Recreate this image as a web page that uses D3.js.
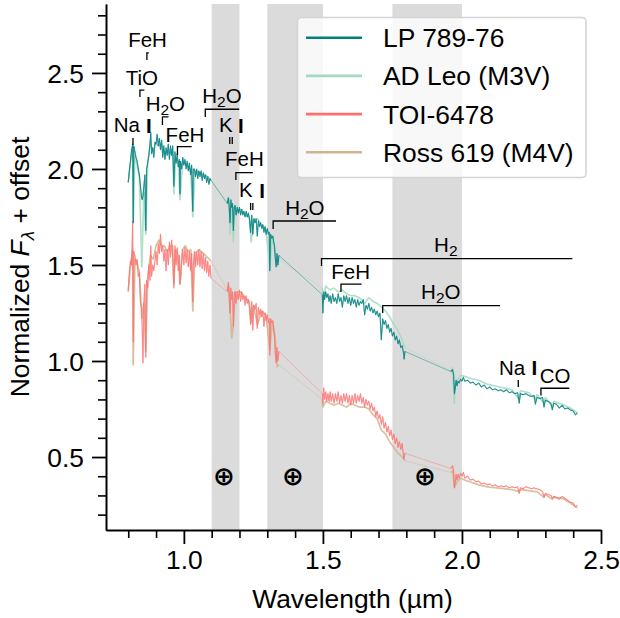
<!doctype html>
<html lang="en">
<head>
  <meta charset="utf-8">
  <title>Normalized spectra</title>
  <style>
body { margin: 0; background: #fff; }
svg { display: block; }
text { font-family: "Liberation Sans", Arial, sans-serif; fill: #000; }
.axis path, .axis line { stroke: #000; fill: none; }
.axis text { font-size: 26.4px; }
.spec { fill: none; stroke-linejoin: round; }
  </style>
</head>
<body>
  <script src="https://d3js.org/d3.v7.min.js"></script>
  <script>
// wavelength grid of the two targets (micron)
var wave = [
  .800,.804,.808,.812,.816,.818,.820,.824,.828,.832,
  .836,.840,.844,.848,.850,.853,.856,.860,.863,.866,
  .870,.874,.878,.881,.884,.888,.892,.896,.900,.904,
  .908,.912,.916,.920,.924,.928,.932,.936,.940,.944,
  .948,.952,.956,.960,.964,.968,.972,.976,.980,.984,
  .986,.988,.992,.996,1.000,1.004,1.008,1.012,1.016,1.020,
  1.024,1.028,1.032,1.034,1.038,1.042,1.046,1.050,1.054,1.058,
  1.062,1.066,1.070,1.074,1.078,1.082,1.086,1.090,1.094,1.098,

  1.156,1.160,1.163,1.166,1.169,1.172,1.175,1.178,1.181,1.184,
  1.188,1.192,1.196,1.200,1.204,1.208,1.212,1.216,1.220,1.224,
  1.228,1.232,1.236,1.240,1.244,1.248,1.252,1.256,1.260,1.264,
  1.268,1.272,1.276,1.280,1.284,1.288,1.292,1.296,1.300,1.304,
  1.307,1.309,1.312,1.316,1.320,1.323,1.326,1.329,1.332,1.335,1.338,1.342,

  1.498,1.500,1.503,1.506,1.510,1.514,1.518,1.522,1.526,1.530,
  1.535,1.540,1.545,1.550,1.555,1.560,1.565,1.570,1.575,
  1.580,1.585,1.590,1.595,1.600,1.605,1.610,1.615,1.620,1.625,
  1.630,1.635,1.640,1.645,1.650,1.655,1.660,1.665,1.670,1.675,
  1.680,1.685,1.690,1.695,1.700,1.705,1.710,1.715,1.720,1.725,
  1.730,1.735,1.740,1.745,1.750,1.755,1.760,1.765,1.770,1.775,
  1.780,1.785,1.790,1.792,1.795,

  1.960,1.966,1.970,1.973,1.976,1.979,1.982,1.986,1.990,1.995,
  2.000,2.005,2.010,2.020,2.030,2.040,2.050,2.060,2.070,2.080,
  2.090,2.100,2.110,2.120,2.130,2.140,2.150,2.160,2.170,2.180,
  2.190,2.200,2.206,2.210,2.220,2.230,2.240,2.250,2.260,2.264,
  2.270,2.280,2.290,2.295,2.300,2.310,2.320,2.325,2.330,2.340,
  2.350,2.360,2.370,2.380,2.390,2.400,2.408,2.415
];

var lp789 = [
  1.93,1.99,2.04,2.10,2.13,1.72,2.12,2.09,2.06,2.04,
  2.00,1.97,1.91,1.85,1.84,1.86,1.91,1.97,1.68,2.00,
  2.03,2.07,2.13,2.19,2.08,2.11,2.06,2.14,2.13,2.18,
  2.12,2.16,2.10,2.15,2.06,2.12,2.05,2.11,2.07,2.13,
  2.05,2.12,2.07,2.12,1.91,2.09,2.03,2.08,2.01,2.05,
  1.87,2.04,2.00,2.06,2.02,2.05,2.00,2.04,1.99,2.03,
  1.97,2.02,1.78,2.00,2.00,1.96,2.00,1.95,1.99,1.96,
  1.99,1.94,1.98,1.95,1.97,1.93,1.96,1.92,1.95,1.94,

  1.82,1.85,1.80,1.72,1.84,1.80,1.82,1.68,1.80,1.81,
  1.76,1.80,1.77,1.80,1.76,1.79,1.76,1.78,1.75,1.78,
  1.75,1.77,1.74,1.67,1.76,1.66,1.74,1.72,1.74,1.65,
  1.73,1.70,1.72,1.69,1.71,1.67,1.70,1.66,1.69,1.66,
  1.67,1.47,1.66,1.64,1.65,1.62,1.60,1.53,1.49,1.56,1.50,1.55,

  1.345,1.25,1.36,1.32,1.36,1.33,1.35,1.31,1.34,1.30,
  1.35,1.31,1.33,1.30,1.35,1.31,1.33,1.28,1.34,
  1.31,1.34,1.30,1.33,1.29,1.33,1.30,1.32,1.28,1.32,
  1.29,1.31,1.30,1.32,1.24,1.29,1.27,1.30,1.26,1.28,
  1.25,1.27,1.24,1.26,1.23,1.25,1.11,1.22,1.19,1.21,
  1.17,1.19,1.15,1.17,1.13,1.15,1.11,1.13,1.09,1.11,
  1.07,1.08,1.04,1.01,1.05,

  .945,.955,.93,.83,.86,.90,.87,.895,.885,.905,
  .895,.915,.895,.90,.885,.89,.875,.885,.865,.875,
  .855,.865,.85,.855,.845,.85,.84,.85,.835,.84,
  .83,.835,.78,.83,.825,.83,.82,.815,.82,.775,
  .81,.805,.81,.76,.795,.79,.78,.745,.78,.775,
  .755,.77,.75,.755,.745,.74,.72,.73
];

var toi6478 = [
  1.37,1.46,1.52,1.50,1.73,1.10,1.57,1.55,1.50,1.53,
  1.44,1.46,1.30,1.28,1.17,.99,1.30,1.40,1.02,1.42,
  1.38,1.50,1.42,1.60,1.44,1.50,1.47,1.52,1.57,1.50,
  1.61,1.56,1.66,1.57,1.60,1.52,1.58,1.47,1.58,1.50,
  1.62,1.54,1.63,1.53,1.38,1.60,1.50,1.59,1.47,1.55,
  1.40,1.42,1.52,1.58,1.50,1.59,1.51,1.58,1.49,1.57,
  1.47,1.56,1.31,1.50,1.57,1.49,1.57,1.50,1.58,1.49,
  1.57,1.48,1.56,1.47,1.54,1.46,1.52,1.44,1.50,1.43,

  1.36,1.41,1.33,1.25,1.38,1.32,1.36,1.18,1.34,1.36,
  1.30,1.36,1.32,1.37,1.31,1.36,1.32,1.34,1.29,1.34,
  1.30,1.32,1.28,1.19,1.31,1.16,1.29,1.27,1.30,1.17,
  1.28,1.24,1.27,1.23,1.26,1.18,1.25,1.21,1.24,1.20,
  1.22,1.03,1.22,1.20,1.21,1.17,1.12,1.03,.99,1.07,1.00,1.05,

  .83,.78,.86,.80,.84,.79,.83,.79,.84,.79,
  .83,.78,.83,.79,.84,.78,.82,.78,.83,
  .79,.83,.78,.82,.77,.82,.78,.83,.78,.82,
  .79,.83,.78,.81,.76,.80,.77,.79,.75,.78,
  .74,.76,.71,.74,.70,.72,.67,.71,.65,.68,
  .63,.66,.61,.64,.59,.62,.57,.60,.55,.58,
  .54,.57,.50,.49,.52,

  .44,.455,.43,.34,.37,.41,.38,.41,.39,.415,
  .40,.42,.39,.40,.38,.385,.37,.375,.36,.365,
  .355,.36,.35,.355,.345,.35,.345,.35,.34,.345,
  .34,.345,.31,.34,.335,.345,.34,.335,.34,.335,
  .335,.33,.32,.29,.31,.305,.30,.285,.295,.29,
  .28,.295,.285,.275,.265,.26,.24,.25
];

// the two comparison stars are read on a coarser grid
var refWave = [
  .800,.808,.816,.818,.824,.832,.840,.849,.856,.863,.870,.880,.890,.900,.910,.920,.930,
  .940,.950,.960,.964,.970,.980,.986,.995,1.005,1.015,1.025,1.032,1.040,1.055,1.070,1.085,1.098,
  1.156,1.162,1.166,1.172,1.178,1.185,1.195,1.205,1.220,1.235,1.242,1.250,1.265,1.280,1.295,1.309,1.318,1.328,1.335,1.342,
  1.498,1.500,1.510,1.525,1.540,1.555,1.570,1.585,1.600,1.615,1.630,1.650,1.665,1.680,1.695,1.710,1.725,1.740,1.755,1.770,1.785,1.795,
  1.960,1.966,1.973,1.976,1.982,1.995,2.010,2.030,2.060,2.090,2.120,2.150,2.180,2.206,2.210,2.240,2.264,2.270,2.295,2.300,2.325,2.330,2.360,2.390,2.415
];

var adLeo = [
  1.93,2.04,2.11,1.72,2.07,2.02,1.95,1.49,1.88,1.66,2.04,2.13,2.10,2.13,2.12,2.13,2.08,
  2.09,2.08,2.09,1.87,2.05,2.04,1.84,2.03,2.03,2.01,1.99,1.75,1.99,1.98,1.97,1.96,1.94,
  1.83,1.85,1.66,1.82,1.62,1.81,1.78,1.79,1.76,1.75,1.62,1.74,1.74,1.71,1.68,1.50,1.65,1.56,1.49,1.53,
  1.38,1.30,1.39,1.37,1.38,1.36,1.37,1.35,1.34,1.34,1.33,1.30,1.33,1.31,1.30,1.28,1.26,1.23,1.19,1.16,1.11,1.07,
  .95,.965,.78,.88,.90,.925,.92,.91,.90,.88,.87,.86,.85,.80,.845,.835,.80,.825,.78,.81,.76,.79,.775,.755,.73
];

var ross619 = [
  1.36,1.50,1.58,.98,1.53,1.51,1.46,1.22,1.30,1.05,1.44,1.55,1.53,1.60,1.63,1.60,1.60,
  1.57,1.60,1.60,1.40,1.58,1.55,1.40,1.58,1.60,1.57,1.58,1.26,1.56,1.58,1.56,1.54,1.52,
  1.37,1.39,1.28,1.12,1.19,1.36,1.36,1.36,1.33,1.31,1.20,1.29,1.19,1.26,1.24,1.06,1.20,1.13,.97,.98,
  .80,.76,.79,.78,.77,.78,.77,.76,.78,.77,.76,.76,.75,.72,.70,.64,.62,.58,.55,.52,.50,.48,
  .42,.43,.34,.35,.37,.39,.38,.37,.355,.345,.34,.335,.33,.32,.33,.325,.32,.32,.29,.305,.28,.29,.285,.26,.235
];

var legendNames = ["LP 789-76", "AD Leo (M3V)", "TOI-6478", "Ross 619 (M4V)"];
var legendColors = ["#008080", "#a3d9c0", "#ff6f6f", "#d2b48c"];

// telluric bands, wavelength start/end
var bandStart = [1.10, 1.30, 1.75];
var bandEnd = [1.20, 1.50, 2.00];
var earthWave = [1.144, 1.392, 1.867];

var xMajor = [1.0, 1.5, 2.0, 2.5];
var xMinor = [.8, .9, 1.1, 1.2, 1.3, 1.4, 1.6, 1.7, 1.8, 1.9, 2.1, 2.2, 2.3, 2.4];
var yMajor = [.5, 1.0, 1.5, 2.0, 2.5];
var yMinor = [.2, .3, .4, .6, .7, .8, .9, 1.1, 1.2, 1.3, 1.4, 1.6, 1.7, 1.8, 1.9, 2.1, 2.2, 2.3, 2.4, 2.6, 2.7, 2.8];

// line labels: text, wavelength, flux
var lineLabels = [
  ["FeH", .8694, 2.635], ["TiO", .849, 2.4375], ["H2O", .9335, 2.302], ["Na", .795, 2.194], ["I", .874, 2.1875],
  ["H2O", 1.137, 2.344], ["K", 1.151, 2.194], ["I", 1.205, 2.1875], ["FeH", 1.004, 2.142], ["FeH", 1.2176, 2.016],
  ["K", 1.223, 1.856], ["I", 1.2817, 1.849], ["H2O", 1.435, 1.76], ["H2", 1.942, 1.569], ["FeH", 1.60, 1.427],
  ["H2O", 1.924, 1.323], ["Na", 2.18, .927], ["I", 2.26, .927], ["CO", 2.335, .887]
];
// brackets: wavelength from, wavelength to, flux of the bar, flux of the foot
var brackets = [
  [.867, .874, 2.604, 2.568], [.842, .858, 2.411, 2.375], [.923, .945, 2.271, 2.229],
  [1.077, 1.199, 2.311, 2.271], [.977, 1.028, 2.116, 2.073], [1.187, 1.248, 1.981, 1.943],
  [1.321, 1.547, 1.729, 1.6875], [1.495, 2.397, 1.533, 1.495], [1.565, 1.639, 1.40, 1.359],
  [1.715, 2.137, 1.288, 1.25], [2.284, 2.386, .858, .82]
];
// single line ticks: wavelength, flux top, flux bottom
var lineTicks = [
  [.817, 2.161, 2.125], [2.2025, .901, .865], [1.165, 2.167, 2.13], [1.174, 2.167, 2.13],
  [1.24, 1.823, 1.786], [1.248, 1.823, 1.786]
];

var width = 620, height = 618;

var x = d3.scaleLinear().domain([.72, 2.5]).range([106, 601]);
var y = d3.scaleLinear().domain([.12, 2.859]).range([530, 4]);

var svg = d3.select("body").append("svg")
    .attr("width", width)
    .attr("height", height);

// telluric bands
svg.selectAll(".band")
    .data(d3.zip(bandStart, bandEnd))
    .enter().append("rect")
    .attr("class", "band")
    .attr("x", function(d) { return x(d[0]); })
    .attr("width", function(d) { return x(d[1]) - x(d[0]); })
    .attr("y", y(2.859))
    .attr("height", y(.12) - y(2.859))
    .attr("fill", "#dbdbdb");

var line = d3.line()
    .x(function(d) { return x(d[0]); })
    .y(function(d) { return y(d[1]); });

// thin line through everything, then a heavier pass over the observed stretches
// so the noise reads as a band and the line across the gaps stays thin
function spectrum(w, f, color, thin, thick, op) {
  var pts = d3.zip(w, f);
  svg.append("path")
      .datum(pts)
      .attr("class", "spec")
      .attr("d", line)
      .attr("stroke", color)
      .attr("stroke-width", thin)
      .attr("stroke-opacity", op);
  var runs = [[]];
  pts.forEach(function(p, i) {
    if (i > 0 && p[0] - pts[i - 1][0] > .04) runs.push([]);
    runs[runs.length - 1].push(p);
  });
  svg.selectAll(null)
      .data(runs)
      .enter().append("path")
      .attr("class", "spec")
      .attr("d", line)
      .attr("stroke", color)
      .attr("stroke-width", thick)
      .attr("stroke-opacity", op);
}

spectrum(refWave, ross619, legendColors[3], .6, 1.7, .75);
spectrum(refWave, adLeo, legendColors[1], .6, 1.7, .75);
spectrum(wave, toi6478, legendColors[2], .6, 1.1, .7);
spectrum(wave, lp789, legendColors[0], .6, 1.1, .75);

// axes, minor ticks first
svg.append("g").attr("class", "axis")
    .attr("transform", "translate(0,530)")
    .call(d3.axisBottom(x).tickValues(xMinor).tickSize(8).tickSizeOuter(0).tickFormat(""))
    .selectAll("line").attr("stroke-width", 1.6);
var xAxis = svg.append("g").attr("class", "axis")
    .attr("transform", "translate(0,530)")
    .call(d3.axisBottom(x).tickValues(xMajor).tickSize(14).tickSizeOuter(0).tickFormat(d3.format(".1f")));
xAxis.selectAll("line").attr("stroke-width", 1.8);
xAxis.select("path").attr("stroke-width", 2);
xAxis.selectAll("text").attr("y", 20).attr("dy", "0.71em");

svg.append("g").attr("class", "axis")
    .attr("transform", "translate(106,0)")
    .call(d3.axisLeft(y).tickValues(yMinor).tickSize(8).tickSizeOuter(0).tickFormat(""))
    .selectAll("line").attr("stroke-width", 1.6);
var yAxis = svg.append("g").attr("class", "axis")
    .attr("transform", "translate(106,0)")
    .call(d3.axisLeft(y).tickValues(yMajor).tickSize(14).tickSizeOuter(0).tickFormat(d3.format(".1f")));
yAxis.selectAll("line").attr("stroke-width", 1.8);
yAxis.select("path").attr("stroke-width", 2);
yAxis.selectAll("text").attr("x", -22).attr("dy", "0.36em");

// axis titles
svg.append("text")
    .attr("x", 352.5).attr("y", 608)
    .attr("text-anchor", "middle")
    .attr("font-size", 26.4)
    .text("Wavelength (\u00b5m)");

var ylab = svg.append("text")
    .attr("transform", "translate(29,267) rotate(-90)")
    .attr("text-anchor", "middle")
    .attr("font-size", 26.4);
ylab.append("tspan").text("Normalized ");
ylab.append("tspan").attr("font-style", "italic").text("F");
ylab.append("tspan").attr("font-size", 19).attr("dy", 5).attr("font-style", "italic").text("\u03bb");
ylab.append("tspan").attr("dy", -5).text(" + offset");

// brackets and ticks
svg.selectAll(".bracket")
    .data(brackets)
    .enter().append("path")
    .attr("class", "bracket")
    .attr("fill", "none")
    .attr("stroke", "#000")
    .attr("stroke-width", 1.3)
    .attr("d", function(d) {
      return d3.line()([[x(d[0]), y(d[3])], [x(d[0]), y(d[2])], [x(d[1]), y(d[2])]]);
    });

svg.selectAll(".lineTick")
    .data(lineTicks)
    .enter().append("line")
    .attr("class", "lineTick")
    .attr("stroke", "#000")
    .attr("stroke-width", 1.3)
    .attr("x1", function(d) { return x(d[0]); })
    .attr("x2", function(d) { return x(d[0]); })
    .attr("y1", function(d) { return y(d[1]); })
    .attr("y2", function(d) { return y(d[2]); });

// labels, digit after H goes to a subscript
lineLabels.forEach(function(d) {
  var t = svg.append("text")
      .attr("x", x(d[1])).attr("y", y(d[2]))
      .attr("text-anchor", "middle")
      .attr("font-size", 20.5);
  if (d[0].charAt(0) == "H") {
    t.append("tspan").text("H");
    t.append("tspan").attr("font-size", 15.5).attr("dy", 4).text("2");
    if (d[0].length > 2) t.append("tspan").attr("dy", -4).text("O");
  } else {
    t.text(d[0]);
    if (d[0] == "I") t.attr("font-weight", "bold");
  }
});

svg.selectAll(".earth")
    .data(earthWave)
    .enter().append("text")
    .attr("class", "earth")
    .attr("x", function(d) { return x(d); })
    .attr("y", y(.403))
    .attr("dy", "0.36em")
    .attr("text-anchor", "middle")
    .attr("font-size", 26)
    .attr("font-weight", "bold")
    .style("font-family", "'DejaVu Sans'")
    .text("\u2295");

// legend
var lg = svg.append("g");
lg.append("rect")
    .attr("x", 297.5).attr("y", 17.5)
    .attr("width", 288.5).attr("height", 160)
    .attr("rx", 4)
    .attr("fill", "#fff").attr("fill-opacity", .8)
    .attr("stroke", "#d4d4d4").attr("stroke-width", 1.6);
legendNames.forEach(function(name, i) {
  var ly = 37.7 + i * 38.2;
  lg.append("line")
      .attr("x1", 306).attr("x2", 362)
      .attr("y1", ly).attr("y2", ly)
      .attr("stroke", legendColors[i])
      .attr("stroke-width", 2.6);
  lg.append("text")
      .attr("x", 383).attr("y", ly)
      .attr("dy", "0.36em")
      .attr("font-size", 26.4)
      .text(name);
});
  </script>
</body>
</html>
